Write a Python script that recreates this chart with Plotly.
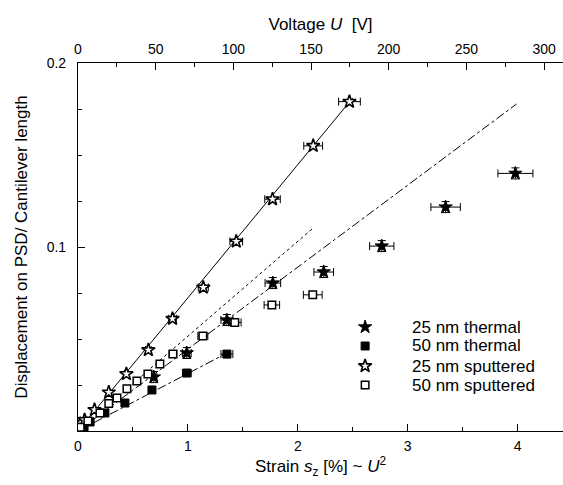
import plotly.graph_objects as go

# ---- data (strain in %, displacement / cantilever length) ----
th25_x = [0.69, 0.99, 1.355, 1.773, 2.236, 2.764, 3.345, 3.98]
th25_y = [0.0293, 0.0424, 0.0603, 0.0804, 0.0864, 0.1005, 0.1217, 0.140]

th50_x = [0.018, 0.055, 0.11, 0.245, 0.427, 0.673, 0.99, 1.355]
th50_y = [0.001, 0.0022, 0.0049, 0.0098, 0.0152, 0.0223, 0.0315, 0.0418]

sp25_x = [0.02, 0.06, 0.15, 0.28, 0.44, 0.64, 0.86, 1.14, 1.44, 1.77, 2.14, 2.47]
sp25_y = [0.004, 0.006, 0.0115, 0.021, 0.031, 0.044, 0.061, 0.078, 0.103, 0.126, 0.155, 0.179]

sp50_x = [0.02, 0.09, 0.2, 0.28, 0.355, 0.445, 0.536, 0.636, 0.745, 0.864, 1.136, 1.427, 1.764, 2.136]
sp50_y = [0.002, 0.0055, 0.0098, 0.015, 0.018, 0.023, 0.0272, 0.031, 0.0364, 0.0418, 0.0516, 0.059, 0.0685, 0.074]

# linear fits (end points)
fit_solid_x = [0, 2.5]
fit_solid_y = [0, 0.181]
fit_dot_x = [0, 2.13]
fit_dot_y = [0, 0.1098]
fit_dashdot_x = [0, 3.99]
fit_dashdot_y = [0, 0.1777]
fit_short_x = [0, 1.36]
fit_short_y = [0, 0.0425]

names = ["25 nm thermal", "50 nm thermal", "25 nm sputtered", "50 nm sputtered"]

FONT = "Liberation Sans, Arial, sans-serif"

styles = [
    dict(symbol="star", size=10, color="black", line=dict(color="black", width=1)),
    dict(symbol="square", size=8, color="black", line=dict(color="black", width=1)),
    dict(symbol="star", size=10, color="white", line=dict(color="black", width=1.6)),
    dict(symbol="square", size=7.5, color="white", line=dict(color="black", width=1.5)),
]

fig = go.Figure()

for fx, fy, dash in [(fit_solid_x, fit_solid_y, "solid"), (fit_dot_x, fit_dot_y, "dot"),
                     (fit_dashdot_x, fit_dashdot_y, "dashdot"), (fit_short_x, fit_short_y, "dashdot")]:
    fig.add_trace(go.Scatter(x=fx, y=fy, mode="lines", showlegend=False, hoverinfo="skip",
                             line=dict(color="black", width=1, dash=dash)))

ex = dict(type="percent", value=4, color="black", thickness=1, width=4)

fig.add_trace(go.Scatter(x=th25_x, y=th25_y, mode="markers", name=names[0], marker=styles[0],
                         error_x=ex, error_y=dict(type="constant", value=0.003, color="black", thickness=1, width=4)))
fig.add_trace(go.Scatter(x=th50_x, y=th50_y, mode="markers", name=names[1], marker=styles[1], error_x=ex))
fig.add_trace(go.Scatter(x=sp25_x, y=sp25_y, mode="markers", name=names[2], marker=styles[2], error_x=ex))
fig.add_trace(go.Scatter(x=sp50_x, y=sp50_y, mode="markers", name=names[3], marker=styles[3], error_x=ex))

# dummy trace for the top (voltage) axis
fig.add_trace(go.Scatter(x=[0], y=[None], xaxis="x2", showlegend=False, hoverinfo="skip"))

# custom legend (placed in plot-area fractions on a hidden overlay axis)
leg_x_sym = 0.592
leg_x_txt = 0.684
leg_rows = [0.2826, 0.231, 0.1766, 0.125]
for i, nm in enumerate(names):
    fig.add_trace(go.Scatter(x=[leg_x_sym], y=[leg_rows[i]], mode="markers", marker=styles[i],
                             xaxis="x3", yaxis="y3", showlegend=False, hoverinfo="skip"))
    fig.add_annotation(x=leg_x_txt, y=leg_rows[i], xref="x3", yref="y3", text=nm, showarrow=False,
                       xanchor="left", yanchor="middle", font=dict(family=FONT, size=17, color="black"))

axis_common = dict(showline=True, linecolor="black", linewidth=1.2, showgrid=False, zeroline=False,
                   ticks="inside", ticklen=7, tickwidth=1, tickcolor="black",
                   tickfont=dict(family=FONT, size=14, color="black"))

fig.update_layout(
    width=563, height=485,
    margin=dict(l=78, r=0, t=63, b=54),
    paper_bgcolor="white", plot_bgcolor="white",
    font=dict(family=FONT, size=14, color="black"),
    showlegend=False,
    xaxis=dict(range=[0, 4.413], tickvals=[0, 1, 2, 3, 4], ticktext=["0", "1", "2", "3", "4"],
               minor=dict(dtick=0.5, tick0=0, ticks="inside", ticklen=4, tickcolor="black"),
               ticklabelstandoff=2,
               title=dict(text="Strain <i>s</i><sub>z</sub> [%] ~ <i>U</i><sup>2</sup>",
                          font=dict(family=FONT, size=17), standoff=0),
               **axis_common),
    xaxis2=dict(range=[0, 312.2], overlaying="x", side="top", anchor="y",
                tickvals=[0, 50, 100, 150, 200, 250, 300],
                minor=dict(dtick=25, tick0=0, ticks="inside", ticklen=4, tickcolor="black"),
                ticklabelstandoff=2,
                title=dict(text="Voltage <i>U</i>  [V]", font=dict(family=FONT, size=17), standoff=6),
                **axis_common),
    yaxis=dict(range=[0, 0.2], tickvals=[0.1, 0.2], ticktext=["0.1", "0.2"],
               minor=dict(dtick=0.025, tick0=0, ticks="inside", ticklen=4, tickcolor="black"),
               ticklabelstandoff=8,
               title=dict(text="Displacement on PSD/ Cantilever length", font=dict(family=FONT, size=17), standoff=14),
               **axis_common),
    xaxis3=dict(range=[0, 1], overlaying="x", visible=False, anchor="y3"),
    yaxis3=dict(range=[0, 1], overlaying="y", visible=False, anchor="x3"),
)

fig.write_html("out.html")
